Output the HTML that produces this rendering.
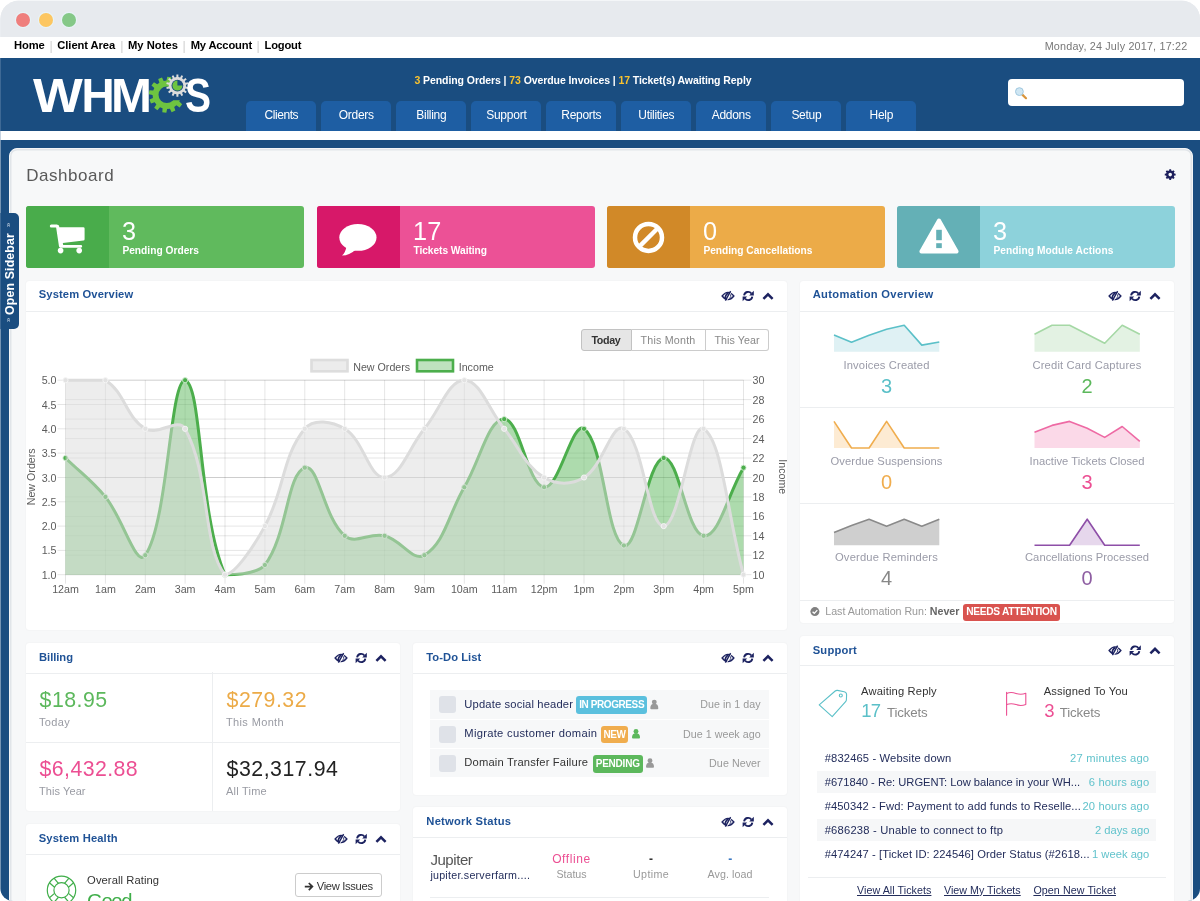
<!DOCTYPE html>
<html lang="en">
<head>
<meta charset="utf-8">
<title>WHMCS - Dashboard</title>
<style>
*{box-sizing:border-box}
html,body{margin:0;padding:0}
body{width:1200px;height:901px;overflow:hidden;background:#fff;font-family:"Liberation Sans",sans-serif;font-size:11px;color:#333}
#win{position:absolute;left:0;top:0;width:1200px;height:901px;overflow:hidden;background:linear-gradient(#e7eaee 0,#e7eaee 37px,#fff 37px,#fff 58px,#1a4d80 58px);clip-path:inset(0.8px 0 0 0.4px round 18px 18px 12.5px 12.5px)}
#win>div,#win>svg{position:absolute}
.x{position:absolute;white-space:nowrap;line-height:1}
.x b{font-weight:inherit}
#titlebar{left:0;top:0;width:1200px;height:37px;background:#e7eaee}
.dot{position:absolute;top:12.8px;width:14px;height:14px;border-radius:50%;box-shadow:0 0 0 1.2px rgba(232,244,247,.9)}
#topnav{left:0;top:37px;width:1200px;height:21px;background:#fff}
#header{left:0;top:58px;width:1200px;height:73px;background:#1a4d80}
#stripe{left:0;top:130.5px;width:1200px;height:9.5px;background:#fff}
.tab{position:absolute;top:42.5px;width:70px;height:30.5px;background:#1e5ea3;border-radius:5px 5px 0 0}
#search{position:absolute;left:1007.5px;top:20.5px;width:176px;height:27.5px;background:#fff;border-radius:4px}
#panel{left:9px;top:148.3px;width:1184px;height:800px;background:#f7f8f9;border:1px solid #f3f5f7;border-radius:8px;box-shadow:inset 0 0 0 1.5px #e1e5e9}
#sidetab{left:0;top:213px;width:19px;height:116px;background:#1a4d80;border-radius:0 5px 5px 0}
.stat{top:206px;width:278px;height:62px;border-radius:3px;overflow:hidden}
.stat i{position:absolute;left:0;top:0;width:83px;height:62px}
.w{background:#fff;border-radius:3px;box-shadow:0 0 1.5px rgba(0,0,0,.08)}
.w .hd{position:absolute;left:0;top:0;right:0;height:30.5px;border-bottom:1px solid #eceef0}
.ln{background:#eceef0}
</style>
</head>
<body>
<div id="win">
<div id="titlebar">
  <div class="dot" style="left:16px;background:#ef7f7d"></div>
  <div class="dot" style="left:39px;background:#fcc661"></div>
  <div class="dot" style="left:62px;background:#85c887"></div>
</div>
<div id="topnav"></div>
<div id="header">
  <div class="tab" style="left:246.3px"></div>
  <div class="tab" style="left:321.3px"></div>
  <div class="tab" style="left:396.3px"></div>
  <div class="tab" style="left:471.3px"></div>
  <div class="tab" style="left:546.3px"></div>
  <div class="tab" style="left:621.3px"></div>
  <div class="tab" style="left:696.3px"></div>
  <div class="tab" style="left:771.3px"></div>
  <div class="tab" style="left:846.3px"></div>
  <div id="search"></div>
</div>
<div id="stripe"></div>
<div id="panel"></div>
<div id="sidetab"></div>

<div class="stat" style="left:26px;background:#60ba5d"><i style="background:#49ac4b"></i></div>
<div class="stat" style="left:317px;background:#ec5196"><i style="background:#d71869"></i></div>
<div class="stat" style="left:607px;background:#ecab48"><i style="background:#d18928"></i></div>
<div class="stat" style="left:897px;background:#8dd2db"><i style="background:#64b0b6"></i></div>

<div class="w" style="left:26px;top:281px;width:761px;height:349px"><div class="hd"></div></div>
<div class="w" style="left:800px;top:281px;width:374px;height:342.4px"><div class="hd"></div></div>
<div class="w" style="left:26px;top:643px;width:374px;height:168px"><div class="hd"></div></div>
<div class="w" style="left:413px;top:643px;width:374px;height:151.5px"><div class="hd"></div></div>
<div class="w" style="left:800px;top:635.5px;width:374px;height:300px"><div class="hd"></div></div>
<div class="w" style="left:26px;top:824px;width:374px;height:120px"><div class="hd"></div></div>
<div class="w" style="left:413px;top:807px;width:374px;height:120px"><div class="hd"></div></div>

<div class="bt" style="left:581px;top:329.2px;width:51px;height:22px;background:#e6e6e6;border:1px solid #c2c2c2;border-radius:3px 0 0 3px"></div>
<div class="bt" style="left:631.5px;top:329.2px;width:74.5px;height:22px;background:#fff;border:1px solid #ccc;border-left:0"></div>
<div class="bt" style="left:706px;top:329.2px;width:63px;height:22px;background:#fff;border:1px solid #ccc;border-left:0;border-radius:0 3px 3px 0"></div>
<div class="ln" style="left:800px;top:406.5px;width:374px;height:1px"></div>
<div class="ln" style="left:800px;top:502.5px;width:374px;height:1px"></div>
<div class="ln" style="left:800px;top:599.5px;width:374px;height:1px"></div>
<div style="left:963px;top:603.5px;width:97px;height:17.3px;background:#d9534f;border-radius:3px"></div>
<div class="ln" style="left:26px;top:741.7px;width:374px;height:1px"></div>
<div class="ln" style="left:212.3px;top:672px;width:1px;height:139px"></div>
<div style="left:294.5px;top:872.6px;width:87.7px;height:24.7px;background:#fff;border:1px solid #ccc;border-radius:3px"></div>
<div class="row" style="left:430.4px;top:690.4px;width:338.8px;height:28.2px;background:#f7f8f9"></div>
<div class="row" style="left:430.4px;top:719.7px;width:338.8px;height:28.1px;background:#f7f8f9"></div>
<div class="row" style="left:430.4px;top:748.9px;width:338.8px;height:27.8px;background:#f7f8f9"></div>
<div class="cb" style="left:439px;top:696.4px;width:17px;height:16.8px;background:#dfe2e8;border-radius:3px"></div>
<div class="cb" style="left:439px;top:725.8px;width:17px;height:16.8px;background:#dfe2e8;border-radius:3px"></div>
<div class="cb" style="left:439px;top:755px;width:17px;height:16.8px;background:#dfe2e8;border-radius:3px"></div>
<div class="bdg" style="left:576px;top:696.2px;width:71.3px;height:17.5px;background:#5bc0de;border-radius:3px"></div>
<div class="bdg" style="left:600.5px;top:725.5px;width:27.8px;height:17.5px;background:#f0ad4e;border-radius:3px"></div>
<div class="bdg" style="left:592.5px;top:755px;width:50.1px;height:17.5px;background:#5cb85c;border-radius:3px"></div>
<div class="row" style="left:817.4px;top:770.7px;width:338.8px;height:22.5px;background:#f6f7f8"></div>
<div class="row" style="left:817.4px;top:819px;width:338.8px;height:22.4px;background:#f6f7f8"></div>
<div class="ln" style="left:808px;top:877px;width:357.7px;height:1px"></div>
<div class="ln" style="left:430.4px;top:896.8px;width:338.8px;height:1px"></div>


<svg style="left:0;top:0" width="1200" height="901" font-family="Liberation Sans, sans-serif" font-size="10.7" fill="#5c5c5c">
<style>.g{stroke:rgba(0,0,0,.1);stroke-width:1}</style>
<line x1="57.5" x2="743.5" y1="574.7" y2="574.7" class="g"/>
<line x1="57.5" x2="743.5" y1="550.4" y2="550.4" class="g"/>
<line x1="57.5" x2="743.5" y1="526.1" y2="526.1" class="g"/>
<line x1="57.5" x2="743.5" y1="501.8" y2="501.8" class="g"/>
<line x1="57.5" x2="743.5" y1="477.5" y2="477.5" class="g"/>
<line x1="57.5" x2="743.5" y1="453.1" y2="453.1" class="g"/>
<line x1="57.5" x2="743.5" y1="428.8" y2="428.8" class="g"/>
<line x1="57.5" x2="743.5" y1="404.5" y2="404.5" class="g"/>
<line x1="57.5" x2="743.5" y1="380.2" y2="380.2" class="g"/>
<line x1="65.5" x2="751.5" y1="574.7" y2="574.7" class="g"/>
<line x1="65.5" x2="751.5" y1="555.2" y2="555.2" class="g"/>
<line x1="65.5" x2="751.5" y1="535.8" y2="535.8" class="g"/>
<line x1="65.5" x2="751.5" y1="516.4" y2="516.4" class="g"/>
<line x1="65.5" x2="751.5" y1="496.9" y2="496.9" class="g"/>
<line x1="65.5" x2="751.5" y1="477.5" y2="477.5" class="g"/>
<line x1="65.5" x2="751.5" y1="458.0" y2="458.0" class="g"/>
<line x1="65.5" x2="751.5" y1="438.6" y2="438.6" class="g"/>
<line x1="65.5" x2="751.5" y1="419.1" y2="419.1" class="g"/>
<line x1="65.5" x2="751.5" y1="399.6" y2="399.6" class="g"/>
<line x1="65.5" x2="751.5" y1="380.2" y2="380.2" class="g"/>
<line x1="65.5" x2="65.5" y1="380.2" y2="583.7" class="g"/>
<line x1="105.4" x2="105.4" y1="380.2" y2="583.7" class="g"/>
<line x1="145.3" x2="145.3" y1="380.2" y2="583.7" class="g"/>
<line x1="185.1" x2="185.1" y1="380.2" y2="583.7" class="g"/>
<line x1="225.0" x2="225.0" y1="380.2" y2="583.7" class="g"/>
<line x1="264.9" x2="264.9" y1="380.2" y2="583.7" class="g"/>
<line x1="304.8" x2="304.8" y1="380.2" y2="583.7" class="g"/>
<line x1="344.7" x2="344.7" y1="380.2" y2="583.7" class="g"/>
<line x1="384.6" x2="384.6" y1="380.2" y2="583.7" class="g"/>
<line x1="424.4" x2="424.4" y1="380.2" y2="583.7" class="g"/>
<line x1="464.3" x2="464.3" y1="380.2" y2="583.7" class="g"/>
<line x1="504.2" x2="504.2" y1="380.2" y2="583.7" class="g"/>
<line x1="544.1" x2="544.1" y1="380.2" y2="583.7" class="g"/>
<line x1="584.0" x2="584.0" y1="380.2" y2="583.7" class="g"/>
<line x1="623.9" x2="623.9" y1="380.2" y2="583.7" class="g"/>
<line x1="663.7" x2="663.7" y1="380.2" y2="583.7" class="g"/>
<line x1="703.6" x2="703.6" y1="380.2" y2="583.7" class="g"/>
<line x1="743.5" x2="743.5" y1="380.2" y2="583.7" class="g"/>
<path d="M65.5 458.0C81.5 473.6 91.3 479.8 105.4 496.9C123.2 518.7 136.3 568.4 145.3 555.2C168.2 521.8 170.0 380.2 185.1 380.2C201.9 384.3 198.6 513.5 225.0 574.7C230.5 574.7 256.0 574.7 264.9 565.0C287.9 534.2 286.6 474.4 304.8 467.7C318.5 462.7 323.5 517.7 344.7 535.8C355.4 544.9 369.5 532.1 384.6 535.8C401.4 539.9 413.0 562.3 424.4 555.2C444.9 542.8 448.4 514.4 464.3 487.2C480.3 459.9 488.3 419.1 504.2 419.1C520.2 419.1 527.3 485.1 544.1 487.2C559.2 489.0 572.3 420.3 584.0 428.8C604.3 443.7 605.9 539.0 623.9 545.5C637.8 550.6 647.0 460.0 663.7 458.0C678.9 456.1 686.8 533.8 703.6 535.8C718.8 537.6 727.5 495.0 743.5 467.7L743.5 574.7L65.5 574.7Z" fill="rgba(92,184,92,0.5)"/>
<path d="M65.5 458.0C81.5 473.6 91.3 479.8 105.4 496.9C123.2 518.7 136.3 568.4 145.3 555.2C168.2 521.8 170.0 380.2 185.1 380.2C201.9 384.3 198.6 513.5 225.0 574.7C230.5 574.7 256.0 574.7 264.9 565.0C287.9 534.2 286.6 474.4 304.8 467.7C318.5 462.7 323.5 517.7 344.7 535.8C355.4 544.9 369.5 532.1 384.6 535.8C401.4 539.9 413.0 562.3 424.4 555.2C444.9 542.8 448.4 514.4 464.3 487.2C480.3 459.9 488.3 419.1 504.2 419.1C520.2 419.1 527.3 485.1 544.1 487.2C559.2 489.0 572.3 420.3 584.0 428.8C604.3 443.7 605.9 539.0 623.9 545.5C637.8 550.6 647.0 460.0 663.7 458.0C678.9 456.1 686.8 533.8 703.6 535.8C718.8 537.6 727.5 495.0 743.5 467.7" fill="none" stroke="#4cae4c" stroke-width="3"/>
<circle cx="65.5" cy="458.0" r="2.6" fill="#4cae4c" stroke="#d6ecd6" stroke-width=".9"/>
<circle cx="105.4" cy="496.9" r="2.6" fill="#4cae4c" stroke="#d6ecd6" stroke-width=".9"/>
<circle cx="145.3" cy="555.2" r="2.6" fill="#4cae4c" stroke="#d6ecd6" stroke-width=".9"/>
<circle cx="185.1" cy="380.2" r="2.6" fill="#4cae4c" stroke="#d6ecd6" stroke-width=".9"/>
<circle cx="225.0" cy="574.7" r="2.6" fill="#4cae4c" stroke="#d6ecd6" stroke-width=".9"/>
<circle cx="264.9" cy="565.0" r="2.6" fill="#4cae4c" stroke="#d6ecd6" stroke-width=".9"/>
<circle cx="304.8" cy="467.7" r="2.6" fill="#4cae4c" stroke="#d6ecd6" stroke-width=".9"/>
<circle cx="344.7" cy="535.8" r="2.6" fill="#4cae4c" stroke="#d6ecd6" stroke-width=".9"/>
<circle cx="384.6" cy="535.8" r="2.6" fill="#4cae4c" stroke="#d6ecd6" stroke-width=".9"/>
<circle cx="424.4" cy="555.2" r="2.6" fill="#4cae4c" stroke="#d6ecd6" stroke-width=".9"/>
<circle cx="464.3" cy="487.2" r="2.6" fill="#4cae4c" stroke="#d6ecd6" stroke-width=".9"/>
<circle cx="504.2" cy="419.1" r="2.6" fill="#4cae4c" stroke="#d6ecd6" stroke-width=".9"/>
<circle cx="544.1" cy="487.2" r="2.6" fill="#4cae4c" stroke="#d6ecd6" stroke-width=".9"/>
<circle cx="584.0" cy="428.8" r="2.6" fill="#4cae4c" stroke="#d6ecd6" stroke-width=".9"/>
<circle cx="623.9" cy="545.5" r="2.6" fill="#4cae4c" stroke="#d6ecd6" stroke-width=".9"/>
<circle cx="663.7" cy="458.0" r="2.6" fill="#4cae4c" stroke="#d6ecd6" stroke-width=".9"/>
<circle cx="703.6" cy="535.8" r="2.6" fill="#4cae4c" stroke="#d6ecd6" stroke-width=".9"/>
<circle cx="743.5" cy="467.7" r="2.6" fill="#4cae4c" stroke="#d6ecd6" stroke-width=".9"/>
<path d="M65.5 380.2C81.5 380.2 93.0 380.2 105.4 380.2C124.9 392.1 125.7 416.9 145.3 428.8C157.6 436.4 178.5 416.6 185.1 428.8C210.4 475.0 202.5 547.2 225.0 574.7C234.4 574.7 253.0 547.9 264.9 526.1C284.9 489.6 281.7 457.0 304.8 428.8C313.6 418.1 332.3 421.3 344.7 428.8C364.2 440.7 368.6 477.5 384.6 477.5C400.5 477.5 408.5 448.3 424.4 428.8C440.4 409.4 448.4 380.2 464.3 380.2C480.3 380.2 488.3 409.4 504.2 428.8C520.2 448.3 524.6 465.5 544.1 477.5C556.5 485.0 571.6 485.0 584.0 477.5C603.5 465.5 611.9 421.5 623.9 428.8C643.8 441.0 647.8 526.1 663.7 526.1C679.7 526.1 690.5 420.8 703.6 428.8C722.4 440.3 727.5 516.4 743.5 574.7L743.5 574.7L65.5 574.7Z" fill="rgba(220,220,220,0.5)"/>
<path d="M65.5 380.2C81.5 380.2 93.0 380.2 105.4 380.2C124.9 392.1 125.7 416.9 145.3 428.8C157.6 436.4 178.5 416.6 185.1 428.8C210.4 475.0 202.5 547.2 225.0 574.7C234.4 574.7 253.0 547.9 264.9 526.1C284.9 489.6 281.7 457.0 304.8 428.8C313.6 418.1 332.3 421.3 344.7 428.8C364.2 440.7 368.6 477.5 384.6 477.5C400.5 477.5 408.5 448.3 424.4 428.8C440.4 409.4 448.4 380.2 464.3 380.2C480.3 380.2 488.3 409.4 504.2 428.8C520.2 448.3 524.6 465.5 544.1 477.5C556.5 485.0 571.6 485.0 584.0 477.5C603.5 465.5 611.9 421.5 623.9 428.8C643.8 441.0 647.8 526.1 663.7 526.1C679.7 526.1 690.5 420.8 703.6 428.8C722.4 440.3 727.5 516.4 743.5 574.7" fill="none" stroke="#dcdcdc" stroke-width="3"/>
<circle cx="65.5" cy="380.2" r="2.6" fill="#e2e2e2" stroke="#f6f6f6" stroke-width=".9"/>
<circle cx="105.4" cy="380.2" r="2.6" fill="#e2e2e2" stroke="#f6f6f6" stroke-width=".9"/>
<circle cx="145.3" cy="428.8" r="2.6" fill="#e2e2e2" stroke="#f6f6f6" stroke-width=".9"/>
<circle cx="185.1" cy="428.8" r="2.6" fill="#e2e2e2" stroke="#f6f6f6" stroke-width=".9"/>
<circle cx="225.0" cy="574.7" r="2.6" fill="#e2e2e2" stroke="#f6f6f6" stroke-width=".9"/>
<circle cx="264.9" cy="526.1" r="2.6" fill="#e2e2e2" stroke="#f6f6f6" stroke-width=".9"/>
<circle cx="304.8" cy="428.8" r="2.6" fill="#e2e2e2" stroke="#f6f6f6" stroke-width=".9"/>
<circle cx="344.7" cy="428.8" r="2.6" fill="#e2e2e2" stroke="#f6f6f6" stroke-width=".9"/>
<circle cx="384.6" cy="477.5" r="2.6" fill="#e2e2e2" stroke="#f6f6f6" stroke-width=".9"/>
<circle cx="424.4" cy="428.8" r="2.6" fill="#e2e2e2" stroke="#f6f6f6" stroke-width=".9"/>
<circle cx="464.3" cy="380.2" r="2.6" fill="#e2e2e2" stroke="#f6f6f6" stroke-width=".9"/>
<circle cx="504.2" cy="428.8" r="2.6" fill="#e2e2e2" stroke="#f6f6f6" stroke-width=".9"/>
<circle cx="544.1" cy="477.5" r="2.6" fill="#e2e2e2" stroke="#f6f6f6" stroke-width=".9"/>
<circle cx="584.0" cy="477.5" r="2.6" fill="#e2e2e2" stroke="#f6f6f6" stroke-width=".9"/>
<circle cx="623.9" cy="428.8" r="2.6" fill="#e2e2e2" stroke="#f6f6f6" stroke-width=".9"/>
<circle cx="663.7" cy="526.1" r="2.6" fill="#e2e2e2" stroke="#f6f6f6" stroke-width=".9"/>
<circle cx="703.6" cy="428.8" r="2.6" fill="#e2e2e2" stroke="#f6f6f6" stroke-width=".9"/>
<circle cx="743.5" cy="574.7" r="2.6" fill="#e2e2e2" stroke="#f6f6f6" stroke-width=".9"/>
<text x="65.5" y="592.9" text-anchor="middle">12am</text>
<text x="105.4" y="592.9" text-anchor="middle">1am</text>
<text x="145.3" y="592.9" text-anchor="middle">2am</text>
<text x="185.1" y="592.9" text-anchor="middle">3am</text>
<text x="225.0" y="592.9" text-anchor="middle">4am</text>
<text x="264.9" y="592.9" text-anchor="middle">5am</text>
<text x="304.8" y="592.9" text-anchor="middle">6am</text>
<text x="344.7" y="592.9" text-anchor="middle">7am</text>
<text x="384.6" y="592.9" text-anchor="middle">8am</text>
<text x="424.4" y="592.9" text-anchor="middle">9am</text>
<text x="464.3" y="592.9" text-anchor="middle">10am</text>
<text x="504.2" y="592.9" text-anchor="middle">11am</text>
<text x="544.1" y="592.9" text-anchor="middle">12pm</text>
<text x="584.0" y="592.9" text-anchor="middle">1pm</text>
<text x="623.9" y="592.9" text-anchor="middle">2pm</text>
<text x="663.7" y="592.9" text-anchor="middle">3pm</text>
<text x="703.6" y="592.9" text-anchor="middle">4pm</text>
<text x="743.5" y="592.9" text-anchor="middle">5pm</text>
<text x="56.5" y="578.7" text-anchor="end">1.0</text>
<text x="56.5" y="554.4" text-anchor="end">1.5</text>
<text x="56.5" y="530.1" text-anchor="end">2.0</text>
<text x="56.5" y="505.8" text-anchor="end">2.5</text>
<text x="56.5" y="481.5" text-anchor="end">3.0</text>
<text x="56.5" y="457.1" text-anchor="end">3.5</text>
<text x="56.5" y="432.8" text-anchor="end">4.0</text>
<text x="56.5" y="408.5" text-anchor="end">4.5</text>
<text x="56.5" y="384.2" text-anchor="end">5.0</text>
<text x="752.5" y="578.7">10</text>
<text x="752.5" y="559.2">12</text>
<text x="752.5" y="539.8">14</text>
<text x="752.5" y="520.4">16</text>
<text x="752.5" y="500.9">18</text>
<text x="752.5" y="481.5">20</text>
<text x="752.5" y="462.0">22</text>
<text x="752.5" y="442.6">24</text>
<text x="752.5" y="423.1">26</text>
<text x="752.5" y="403.6">28</text>
<text x="752.5" y="384.2">30</text>
<rect x="311.5" y="360" width="36" height="11.3" fill="#ececec" stroke="#dddddd" stroke-width="2.6"/>
<text x="353.2" y="370.5">New Orders</text>
<rect x="417" y="360" width="36" height="11.3" fill="#bfe2bf" stroke="#4cae4c" stroke-width="2.6"/>
<text x="458.7" y="370.5">Income</text>
<text transform="translate(34.5 476.8) rotate(-90)" text-anchor="middle">New Orders</text>
<text transform="translate(779 476.8) rotate(90)" text-anchor="middle">Income</text>
<path d="M181.00 94.48L184.79 95.27L184.23 99.31L180.36 99.02L179.26 101.62L182.15 104.20L179.64 107.42L176.43 105.24L174.18 106.93L175.39 110.62L171.61 112.15L169.92 108.65L167.12 109.00L166.33 112.79L162.29 112.23L162.58 108.36L159.98 107.26L157.40 110.15L154.18 107.64L156.36 104.43L154.67 102.18L150.98 103.39L149.45 99.61L152.95 97.92L152.60 95.12L148.81 94.33L149.37 90.29L153.24 90.58L154.34 87.98L151.45 85.40L153.96 82.18L157.17 84.36L159.42 82.67L158.21 78.98L161.99 77.45L163.68 80.95L166.48 80.60L167.27 76.81L171.31 77.37L171.02 81.24L173.62 82.34L176.20 79.45L179.42 81.96L177.24 85.17L178.93 87.42L182.62 86.21L184.15 89.99L180.65 91.68Z" fill="#6ec440"/>
<circle cx="166.8" cy="94.8" r="8.3" fill="#1a4d80"/>
<path d="M170.8 88.8L188.8 80.8L188.8 100.3L171.8 100.3Z" fill="#1a4d80"/>
<path d="M176.34 77.07L176.43 74.44L178.37 74.44L178.46 77.07L180.15 77.45L181.37 75.13L183.11 75.97L182.06 78.37L183.41 79.45L185.52 77.89L186.73 79.40L184.73 81.11L185.49 82.67L188.06 82.17L188.49 84.06L185.96 84.73L185.96 86.47L188.49 87.14L188.06 89.03L185.49 88.53L184.73 90.09L186.73 91.80L185.52 93.31L183.41 91.75L182.06 92.83L183.11 95.23L181.37 96.07L180.15 93.75L178.46 94.13L178.37 96.76L176.43 96.76L176.34 94.13L174.65 93.75L173.43 96.07L171.69 95.23L172.74 92.83L171.39 91.75L169.28 93.31L168.07 91.80L170.07 90.09L169.31 88.53L166.74 89.03L166.31 87.14L168.84 86.47L168.84 84.73L166.31 84.06L166.74 82.17L169.31 82.67L170.07 81.11L168.07 79.40L169.28 77.89L171.39 79.45L172.74 78.37L171.69 75.97L173.43 75.13L174.65 77.45Z" fill="#dcdcdc"/>
<circle cx="177.4" cy="85.6" r="5.9" fill="#1a4d80"/>
<path d="M177.40 85.60L182.40 85.60A5 5 0 1 1 177.40 80.60Z" fill="#6ec440"/>
<path d="M1022.3 94.6L1026 98.2" stroke="#d9953c" stroke-width="2.2" stroke-linecap="round"/>
<circle cx="1019.4" cy="91.6" r="3.9" fill="#cfe6f3" stroke="#9fc7de" stroke-width="1"/>
<path d="M1174.33 173.61L1175.63 173.70L1175.63 175.50L1174.33 175.59L1173.82 176.82L1174.67 177.80L1173.40 179.07L1172.42 178.22L1171.19 178.73L1171.10 180.03L1169.30 180.03L1169.21 178.73L1167.98 178.22L1167.00 179.07L1165.73 177.80L1166.58 176.82L1166.07 175.59L1164.77 175.50L1164.77 173.70L1166.07 173.61L1166.58 172.38L1165.73 171.40L1167.00 170.13L1167.98 170.98L1169.21 170.47L1169.30 169.17L1171.10 169.17L1171.19 170.47L1172.42 170.98L1173.40 170.13L1174.67 171.40L1173.82 172.38ZM1168.40 174.60a1.80 1.80 0 1 0 3.60 0a1.80 1.80 0 1 0 -3.60 0Z" fill="#1d1f5c" fill-rule="evenodd"/>
<g fill="#fff" transform="translate(49.8 224.0)">
<rect x="0" y="0.6" width="8.6" height="3" rx="1.5"/>
<path d="M6 1.2L9 1.2L9.6 3.2L33.5 3.2Q34.8 3.2 34.8 4.5L34.8 15.2Q34.8 16.4 33.6 16.6L13 18.9L13.4 21L31 21Q32.4 21 32.4 22.3Q32.4 23.7 31 23.7L10.6 23.7Q9.4 23.7 9.2 22.6Z"/>
<circle cx="10.8" cy="26.6" r="2.8"/><circle cx="29.4" cy="26.6" r="2.8"/>
</g>
<g fill="#fff"><ellipse cx="357.9" cy="237.4" rx="18.6" ry="13.4"/><path d="M346.5 246.5Q345.5 252.5 342 255.6Q349.5 255.6 355.5 249.8Z"/></g>
<circle cx="648.5" cy="237.4" r="13.5" fill="none" stroke="#fff" stroke-width="4.5"/><path d="M639.3 246.6L657.7 228.2" stroke="#fff" stroke-width="4.4"/>
<path d="M939 220.6L956.6 251.4L921.4 251.4Z" fill="#fff" stroke="#fff" stroke-width="4" stroke-linejoin="round"/>
<rect x="936.2" y="229.8" width="5.6" height="10.4" fill="#64b0b6"/><rect x="936.2" y="243.2" width="5.6" height="4.9" fill="#64b0b6"/>
<path d="M763.4 298.9L768.0 294.3L772.6 298.9" fill="none" stroke="#1c2260" stroke-width="2.5" stroke-linejoin="miter"/>
<g fill="none" stroke="#1c2260" stroke-width="1.9">
<path d="M744.10 295.40A4.1 4.1 0 0 1 751.40 293.46"/>
<path d="M752.30 296.60A4.1 4.1 0 0 1 745.00 298.54"/>
</g>
<path d="M753.80 295.40l0 -4.6l-4.6 4.6z" fill="#1c2260"/>
<path d="M742.60 296.60l0 4.6l4.6 -4.6z" fill="#1c2260"/>
<path d="M722.10 296.00Q728.00 288.80 733.90 296.00Q728.00 303.20 722.10 296.00Z" fill="none" stroke="#1c2260" stroke-width="1.3"/>
<path d="M728.30 293.00Q725.00 294.80 725.30 298.70" fill="none" stroke="#1c2260" stroke-width="1.7"/>
<path d="M731.60 291.60L726.70 300.60" stroke="#fff" stroke-width="0.9"/>
<path d="M730.60 291.10L725.40 300.70" stroke="#1c2260" stroke-width="1.4"/>
<path d="M730.60 294.40Q731.40 296.60 729.60 298.40" fill="none" stroke="#1c2260" stroke-width="0.9"/>
<path d="M1150.4 298.9L1155.0 294.3L1159.6 298.9" fill="none" stroke="#1c2260" stroke-width="2.5" stroke-linejoin="miter"/>
<g fill="none" stroke="#1c2260" stroke-width="1.9">
<path d="M1131.10 295.40A4.1 4.1 0 0 1 1138.40 293.46"/>
<path d="M1139.30 296.60A4.1 4.1 0 0 1 1132.00 298.54"/>
</g>
<path d="M1140.80 295.40l0 -4.6l-4.6 4.6z" fill="#1c2260"/>
<path d="M1129.60 296.60l0 4.6l4.6 -4.6z" fill="#1c2260"/>
<path d="M1109.10 296.00Q1115.00 288.80 1120.90 296.00Q1115.00 303.20 1109.10 296.00Z" fill="none" stroke="#1c2260" stroke-width="1.3"/>
<path d="M1115.30 293.00Q1112.00 294.80 1112.30 298.70" fill="none" stroke="#1c2260" stroke-width="1.7"/>
<path d="M1118.60 291.60L1113.70 300.60" stroke="#fff" stroke-width="0.9"/>
<path d="M1117.60 291.10L1112.40 300.70" stroke="#1c2260" stroke-width="1.4"/>
<path d="M1117.60 294.40Q1118.40 296.60 1116.60 298.40" fill="none" stroke="#1c2260" stroke-width="0.9"/>
<path d="M376.4 660.9L381.0 656.3L385.6 660.9" fill="none" stroke="#1c2260" stroke-width="2.5" stroke-linejoin="miter"/>
<g fill="none" stroke="#1c2260" stroke-width="1.9">
<path d="M357.10 657.40A4.1 4.1 0 0 1 364.40 655.46"/>
<path d="M365.30 658.60A4.1 4.1 0 0 1 358.00 660.54"/>
</g>
<path d="M366.80 657.40l0 -4.6l-4.6 4.6z" fill="#1c2260"/>
<path d="M355.60 658.60l0 4.6l4.6 -4.6z" fill="#1c2260"/>
<path d="M335.10 658.00Q341.00 650.80 346.90 658.00Q341.00 665.20 335.10 658.00Z" fill="none" stroke="#1c2260" stroke-width="1.3"/>
<path d="M341.30 655.00Q338.00 656.80 338.30 660.70" fill="none" stroke="#1c2260" stroke-width="1.7"/>
<path d="M344.60 653.60L339.70 662.60" stroke="#fff" stroke-width="0.9"/>
<path d="M343.60 653.10L338.40 662.70" stroke="#1c2260" stroke-width="1.4"/>
<path d="M343.60 656.40Q344.40 658.60 342.60 660.40" fill="none" stroke="#1c2260" stroke-width="0.9"/>
<path d="M763.4 660.9L768.0 656.3L772.6 660.9" fill="none" stroke="#1c2260" stroke-width="2.5" stroke-linejoin="miter"/>
<g fill="none" stroke="#1c2260" stroke-width="1.9">
<path d="M744.10 657.40A4.1 4.1 0 0 1 751.40 655.46"/>
<path d="M752.30 658.60A4.1 4.1 0 0 1 745.00 660.54"/>
</g>
<path d="M753.80 657.40l0 -4.6l-4.6 4.6z" fill="#1c2260"/>
<path d="M742.60 658.60l0 4.6l4.6 -4.6z" fill="#1c2260"/>
<path d="M722.10 658.00Q728.00 650.80 733.90 658.00Q728.00 665.20 722.10 658.00Z" fill="none" stroke="#1c2260" stroke-width="1.3"/>
<path d="M728.30 655.00Q725.00 656.80 725.30 660.70" fill="none" stroke="#1c2260" stroke-width="1.7"/>
<path d="M731.60 653.60L726.70 662.60" stroke="#fff" stroke-width="0.9"/>
<path d="M730.60 653.10L725.40 662.70" stroke="#1c2260" stroke-width="1.4"/>
<path d="M730.60 656.40Q731.40 658.60 729.60 660.40" fill="none" stroke="#1c2260" stroke-width="0.9"/>
<path d="M1150.4 653.4L1155.0 648.8L1159.6 653.4" fill="none" stroke="#1c2260" stroke-width="2.5" stroke-linejoin="miter"/>
<g fill="none" stroke="#1c2260" stroke-width="1.9">
<path d="M1131.10 649.90A4.1 4.1 0 0 1 1138.40 647.96"/>
<path d="M1139.30 651.10A4.1 4.1 0 0 1 1132.00 653.04"/>
</g>
<path d="M1140.80 649.90l0 -4.6l-4.6 4.6z" fill="#1c2260"/>
<path d="M1129.60 651.10l0 4.6l4.6 -4.6z" fill="#1c2260"/>
<path d="M1109.10 650.50Q1115.00 643.30 1120.90 650.50Q1115.00 657.70 1109.10 650.50Z" fill="none" stroke="#1c2260" stroke-width="1.3"/>
<path d="M1115.30 647.50Q1112.00 649.30 1112.30 653.20" fill="none" stroke="#1c2260" stroke-width="1.7"/>
<path d="M1118.60 646.10L1113.70 655.10" stroke="#fff" stroke-width="0.9"/>
<path d="M1117.60 645.60L1112.40 655.20" stroke="#1c2260" stroke-width="1.4"/>
<path d="M1117.60 648.90Q1118.40 651.10 1116.60 652.90" fill="none" stroke="#1c2260" stroke-width="0.9"/>
<path d="M376.4 841.9L381.0 837.3L385.6 841.9" fill="none" stroke="#1c2260" stroke-width="2.5" stroke-linejoin="miter"/>
<g fill="none" stroke="#1c2260" stroke-width="1.9">
<path d="M357.10 838.40A4.1 4.1 0 0 1 364.40 836.46"/>
<path d="M365.30 839.60A4.1 4.1 0 0 1 358.00 841.54"/>
</g>
<path d="M366.80 838.40l0 -4.6l-4.6 4.6z" fill="#1c2260"/>
<path d="M355.60 839.60l0 4.6l4.6 -4.6z" fill="#1c2260"/>
<path d="M335.10 839.00Q341.00 831.80 346.90 839.00Q341.00 846.20 335.10 839.00Z" fill="none" stroke="#1c2260" stroke-width="1.3"/>
<path d="M341.30 836.00Q338.00 837.80 338.30 841.70" fill="none" stroke="#1c2260" stroke-width="1.7"/>
<path d="M344.60 834.60L339.70 843.60" stroke="#fff" stroke-width="0.9"/>
<path d="M343.60 834.10L338.40 843.70" stroke="#1c2260" stroke-width="1.4"/>
<path d="M343.60 837.40Q344.40 839.60 342.60 841.40" fill="none" stroke="#1c2260" stroke-width="0.9"/>
<path d="M763.4 824.9L768.0 820.3L772.6 824.9" fill="none" stroke="#1c2260" stroke-width="2.5" stroke-linejoin="miter"/>
<g fill="none" stroke="#1c2260" stroke-width="1.9">
<path d="M744.10 821.40A4.1 4.1 0 0 1 751.40 819.46"/>
<path d="M752.30 822.60A4.1 4.1 0 0 1 745.00 824.54"/>
</g>
<path d="M753.80 821.40l0 -4.6l-4.6 4.6z" fill="#1c2260"/>
<path d="M742.60 822.60l0 4.6l4.6 -4.6z" fill="#1c2260"/>
<path d="M722.10 822.00Q728.00 814.80 733.90 822.00Q728.00 829.20 722.10 822.00Z" fill="none" stroke="#1c2260" stroke-width="1.3"/>
<path d="M728.30 819.00Q725.00 820.80 725.30 824.70" fill="none" stroke="#1c2260" stroke-width="1.7"/>
<path d="M731.60 817.60L726.70 826.60" stroke="#fff" stroke-width="0.9"/>
<path d="M730.60 817.10L725.40 826.70" stroke="#1c2260" stroke-width="1.4"/>
<path d="M730.60 820.40Q731.40 822.60 729.60 824.40" fill="none" stroke="#1c2260" stroke-width="0.9"/>
<path d="M834.0 335.0L851.5 342.2L869.1 335.3L886.6 329.2L904.2 325.2L921.8 345.1L939.3 342.0L939.3 351.8L834.0 351.8Z" fill="#dff1f4"/><path d="M834.0 335.0L851.5 342.2L869.1 335.3L886.6 329.2L904.2 325.2L921.8 345.1L939.3 342.0" fill="none" stroke="#5bc0c8" stroke-width="1.6" stroke-linejoin="round"/>
<path d="M1034.5 334.2L1052.0 325.2L1069.6 325.2L1087.2 334.2L1104.7 343.3L1122.2 325.2L1139.8 334.2L1139.8 351.8L1034.5 351.8Z" fill="#e3f2e3"/><path d="M1034.5 334.2L1052.0 325.2L1069.6 325.2L1087.2 334.2L1104.7 343.3L1122.2 325.2L1139.8 334.2" fill="none" stroke="#a5d8a5" stroke-width="1.6" stroke-linejoin="round"/>
<path d="M834.0 421.4L851.5 448.0L869.1 448.0L886.6 421.4L904.2 448.0L921.8 448.0L939.3 448.0L939.3 448.0L834.0 448.0Z" fill="#fdebd3"/><path d="M834.0 421.4L851.5 448.0L869.1 448.0L886.6 421.4L904.2 448.0L921.8 448.0L939.3 448.0" fill="none" stroke="#f0ad4e" stroke-width="1.6" stroke-linejoin="round"/>
<path d="M1034.5 432.3L1052.0 425.4L1069.6 421.4L1087.2 428.3L1104.7 437.4L1122.2 426.5L1139.8 441.4L1139.8 448.0L1034.5 448.0Z" fill="#fbd9e8"/><path d="M1034.5 432.3L1052.0 425.4L1069.6 421.4L1087.2 428.3L1104.7 437.4L1122.2 426.5L1139.8 441.4" fill="none" stroke="#ee6aa4" stroke-width="1.6" stroke-linejoin="round"/>
<path d="M834.0 532.5L851.5 525.5L869.1 519.2L886.6 526.2L904.2 519.2L921.8 526.2L939.3 519.2L939.3 545.3L834.0 545.3Z" fill="#cfcfcf"/><path d="M834.0 532.5L851.5 525.5L869.1 519.2L886.6 526.2L904.2 519.2L921.8 526.2L939.3 519.2" fill="none" stroke="#8a8a8a" stroke-width="1.6" stroke-linejoin="round"/>
<path d="M1034.5 545.3L1052.0 545.3L1069.6 545.3L1087.2 519.2L1104.7 545.3L1122.2 545.3L1139.8 545.3L1139.8 545.3L1034.5 545.3Z" fill="#e6d7ec"/><path d="M1034.5 545.3L1052.0 545.3L1069.6 545.3L1087.2 519.2L1104.7 545.3L1122.2 545.3L1139.8 545.3" fill="none" stroke="#8e4fa8" stroke-width="1.6" stroke-linejoin="round"/>
<circle cx="814.9" cy="611.6" r="4.5" fill="#808080"/><path d="M812.6 611.7L814.3 613.4L817.3 610.1" fill="none" stroke="#fff" stroke-width="1.3"/>
<g fill="none" stroke="#5bc0c8" stroke-width="1.1" stroke-linejoin="round"><path d="M819.2 704.9L835.2 691Q836.2 690.2 837.5 690.4L844.2 691.8Q846.6 692.3 846.6 694.8L846.4 699.8Q846.4 700.8 845.6 701.7L832.2 716.6Z"/><circle cx="840.8" cy="695.5" r="1.5"/></g>
<g fill="none" stroke="#ec4f93" stroke-width="1.1" stroke-linejoin="round" stroke-linecap="round"><path d="M1006.6 692.4L1006.6 715.2"/><path d="M1006.6 693.4Q1011 691.6 1016 693.4Q1021 695.2 1025.8 693.2L1025.8 704.4Q1021 706.4 1016 704.6Q1011 702.8 1006.6 704.6"/></g>
<g fill="none" stroke="#3fae49" stroke-width="1.2"><circle cx="61.5" cy="890.3" r="14.2"/><circle cx="61.5" cy="890.3" r="7.6"/>
<path d="M68.45 893.38L73.57 897.79"/>
<path d="M64.58 897.25L68.99 902.37"/>
<path d="M58.42 897.25L54.01 902.37"/>
<path d="M54.55 893.38L49.43 897.79"/>
<path d="M54.55 887.22L49.43 882.81"/>
<path d="M58.42 883.35L54.01 878.23"/>
<path d="M64.58 883.35L68.99 878.23"/>
<path d="M68.45 887.22L73.57 882.81"/>
</g>
<path d="M304.8 886.6L312 886.6M308.8 883L312.4 886.6L308.8 890.2" fill="none" stroke="#333" stroke-width="1.7"/>
<g fill="#999"><circle cx="654.3" cy="702.1" r="2.45"/><path d="M650.3 708.2q0 -4.4 4 -4.4q4 0 4 4.4q0 1 -1 1h-6q-1 0 -1 -1z"/></g>
<g fill="#5cb85c"><circle cx="636.0" cy="731.5" r="2.45"/><path d="M632.0 737.6q0 -4.4 4 -4.4q4 0 4 4.4q0 1 -1 1h-6q-1 0 -1 -1z"/></g>
<g fill="#999"><circle cx="650.0" cy="760.7" r="2.45"/><path d="M646.0 766.8q0 -4.4 4 -4.4q4 0 4 4.4q0 1 -1 1h-6q-1 0 -1 -1z"/></g>
</svg>
<span class="x" style="left:13.9px;top:40.4px;font-size:11.2px;color:#000;font-weight:bold;letter-spacing:-0.05px;">Home</span>
<span class="x" style="left:49.6px;top:40.0px;font-size:12.5px;color:#d0d0d0;">|</span>
<span class="x" style="left:57.3px;top:40.4px;font-size:11.2px;color:#000;font-weight:bold;letter-spacing:-0.07px;">Client Area</span>
<span class="x" style="left:120.3px;top:40.0px;font-size:12.5px;color:#d0d0d0;">|</span>
<span class="x" style="left:128.0px;top:40.4px;font-size:11.2px;color:#000;font-weight:bold;letter-spacing:0.03px;">My Notes</span>
<span class="x" style="left:182.4px;top:40.0px;font-size:12.5px;color:#d0d0d0;">|</span>
<span class="x" style="left:190.7px;top:40.4px;font-size:11.2px;color:#000;font-weight:bold;letter-spacing:-0.17px;">My Account</span>
<span class="x" style="left:256.4px;top:40.0px;font-size:12.5px;color:#d0d0d0;">|</span>
<span class="x" style="left:264.5px;top:40.4px;font-size:11.2px;color:#000;font-weight:bold;letter-spacing:-0.18px;">Logout</span>
<span class="x" style="left:1044.7px;top:40.9px;font-size:10.8px;color:#777;letter-spacing:0.18px;">Monday, 24 July 2017, 17:22</span>
<span class="x" style="left:414.5px;top:75.1px;font-size:10.5px;color:#fff;font-weight:bold;letter-spacing:-0.08px;"><b style="color:#f9c22e">3</b> Pending Orders | <b style="color:#f9c22e">73</b> Overdue Invoices | <b style="color:#f9c22e">17</b> Ticket(s) Awaiting Reply</span>
<span class="x" style="left:264.6px;top:109.2px;font-size:12px;color:#fff;letter-spacing:-0.46px;">Clients</span>
<span class="x" style="left:338.8px;top:109.2px;font-size:12px;color:#fff;letter-spacing:-0.28px;">Orders</span>
<span class="x" style="left:416.3px;top:109.2px;font-size:12px;color:#fff;letter-spacing:-0.29px;">Billing</span>
<span class="x" style="left:486.2px;top:109.2px;font-size:12px;color:#fff;letter-spacing:-0.25px;">Support</span>
<span class="x" style="left:561.3px;top:109.2px;font-size:12px;color:#fff;letter-spacing:-.3px">Reports</span>
<span class="x" style="left:638.3px;top:109.2px;font-size:12px;color:#fff;letter-spacing:-.3px">Utilities</span>
<span class="x" style="left:711.8px;top:109.2px;font-size:12px;color:#fff;letter-spacing:-.3px">Addons</span>
<span class="x" style="left:791.4px;top:109.2px;font-size:12px;color:#fff;letter-spacing:-.3px">Setup</span>
<span class="x" style="left:869.6px;top:109.2px;font-size:12px;color:#fff;letter-spacing:-.3px">Help</span>
<span class="x" style="left:26.3px;top:166.9px;font-size:17px;color:#595959;letter-spacing:0.53px;">Dashboard</span>
<span class="x" style="left:122.1px;top:219.1px;font-size:25.3px;color:#fff;">3</span>
<span class="x" style="left:122.4px;top:245.5px;font-size:10.2px;color:#fff;font-weight:bold;letter-spacing:0.01px;">Pending Orders</span>
<span class="x" style="left:413.1px;top:219.1px;font-size:25.3px;color:#fff;">17</span>
<span class="x" style="left:413.4px;top:245.5px;font-size:10.2px;color:#fff;font-weight:bold;letter-spacing:-0.04px;">Tickets Waiting</span>
<span class="x" style="left:703.1px;top:219.1px;font-size:25.3px;color:#fff;">0</span>
<span class="x" style="left:703.4px;top:245.5px;font-size:10.2px;color:#fff;font-weight:bold;letter-spacing:-0.01px;">Pending Cancellations</span>
<span class="x" style="left:993.1px;top:219.1px;font-size:25.3px;color:#fff;">3</span>
<span class="x" style="left:993.4px;top:245.5px;font-size:10.2px;color:#fff;font-weight:bold;letter-spacing:0.07px;">Pending Module Actions</span>
<span class="x" style="left:38.7px;top:288.8px;font-size:11.2px;color:#1f5296;font-weight:bold;letter-spacing:0.13px;">System Overview</span>
<span class="x" style="left:812.7px;top:288.8px;font-size:11.2px;color:#1f5296;font-weight:bold;letter-spacing:0.31px;">Automation Overview</span>
<span class="x" style="left:39.0px;top:651.5px;font-size:11.2px;color:#1f5296;font-weight:bold;letter-spacing:-0.03px;">Billing</span>
<span class="x" style="left:426.3px;top:651.5px;font-size:11.2px;color:#1f5296;font-weight:bold;letter-spacing:0.05px;">To-Do List</span>
<span class="x" style="left:812.7px;top:644.7px;font-size:11.2px;color:#1f5296;font-weight:bold;letter-spacing:0.20px;">Support</span>
<span class="x" style="left:38.7px;top:832.5px;font-size:11.2px;color:#1f5296;font-weight:bold;letter-spacing:0.15px;">System Health</span>
<span class="x" style="left:426.3px;top:815.8px;font-size:11.2px;color:#1f5296;font-weight:bold;letter-spacing:0.25px;">Network Status</span>
<span class="x" style="left:591.4px;top:335.3px;font-size:10.7px;color:#333;font-weight:bold;letter-spacing:-0.34px;">Today</span>
<span class="x" style="left:640.5px;top:335.3px;font-size:10.7px;color:#888;letter-spacing:0.21px;">This Month</span>
<span class="x" style="left:714.5px;top:335.3px;font-size:10.7px;color:#888;letter-spacing:0.05px;">This Year</span>
<span class="x" style="left:843.5px;top:359.5px;font-size:11.2px;color:#9a9ba8;letter-spacing:0.13px;">Invoices Created</span>
<span class="x" style="left:880.9px;top:375.7px;font-size:20px;color:#5bc0c8;">3</span>
<span class="x" style="left:1032.5px;top:359.5px;font-size:11.2px;color:#9a9ba8;letter-spacing:0.16px;">Credit Card Captures</span>
<span class="x" style="left:1081.4px;top:375.7px;font-size:20px;color:#5cb85c;">2</span>
<span class="x" style="left:830.5px;top:455.5px;font-size:11.2px;color:#9a9ba8;letter-spacing:0.10px;">Overdue Suspensions</span>
<span class="x" style="left:880.9px;top:471.7px;font-size:20px;color:#f0ad4e;">0</span>
<span class="x" style="left:1029.5px;top:455.5px;font-size:11.2px;color:#9a9ba8;letter-spacing:0.03px;">Inactive Tickets Closed</span>
<span class="x" style="left:1081.4px;top:471.7px;font-size:20px;color:#ec4f93;">3</span>
<span class="x" style="left:835.0px;top:552.0px;font-size:11.2px;color:#9a9ba8;letter-spacing:0.17px;">Overdue Reminders</span>
<span class="x" style="left:880.9px;top:568.2px;font-size:20px;color:#888;">4</span>
<span class="x" style="left:1025.0px;top:552.0px;font-size:11.2px;color:#9a9ba8;letter-spacing:0.04px;">Cancellations Processed</span>
<span class="x" style="left:1081.4px;top:568.2px;font-size:20px;color:#8e5ea2;">0</span>
<span class="x" style="left:825.3px;top:606.2px;font-size:10.7px;color:#999;letter-spacing:-0.03px;">Last Automation Run: <b style="font-weight:bold;color:#666">Never</b></span>
<span class="x" style="left:966.3px;top:606.7px;font-size:10.2px;color:#fff;font-weight:bold;letter-spacing:-0.31px;">NEEDS ATTENTION</span>
<span class="x" style="left:39.6px;top:689.6px;font-size:21.3px;color:#5cb85c;letter-spacing:0.48px;">$18.95</span>
<span class="x" style="left:39.0px;top:717.1px;font-size:11px;color:#999ba3;letter-spacing:0.33px;">Today</span>
<span class="x" style="left:226.6px;top:689.6px;font-size:21.3px;color:#ecab48;letter-spacing:0.49px;">$279.32</span>
<span class="x" style="left:226.0px;top:717.1px;font-size:11px;color:#999ba3;letter-spacing:0.36px;">This Month</span>
<span class="x" style="left:39.6px;top:759.0px;font-size:21.3px;color:#ec4f93;letter-spacing:0.41px;">$6,432.88</span>
<span class="x" style="left:39.0px;top:786.3px;font-size:11px;color:#999ba3;letter-spacing:0.08px;">This Year</span>
<span class="x" style="left:226.6px;top:759.0px;font-size:21.3px;color:#222;letter-spacing:0.52px;">$32,317.94</span>
<span class="x" style="left:226.0px;top:786.3px;font-size:11px;color:#999ba3;letter-spacing:0.23px;">All Time</span>
<span class="x" style="left:87.1px;top:874.5px;font-size:11.2px;color:#333;letter-spacing:0.08px;">Overall Rating</span>
<span class="x" style="left:87.1px;top:891.0px;font-size:20.3px;color:#3fae49;letter-spacing:-1.41px;">Good</span>
<span class="x" style="left:316.7px;top:880.9px;font-size:11.2px;color:#333;letter-spacing:-0.32px;">View Issues</span>
<span class="x" style="left:464.3px;top:699.0px;font-size:11.2px;color:#232d5b;letter-spacing:0.15px;">Update social header</span>
<span class="x" style="left:579.2px;top:700.1px;font-size:10px;color:#fff;font-weight:bold;letter-spacing:-0.41px;">IN PROGRESS</span>
<span class="x" style="left:700.2px;top:699.4px;font-size:10.7px;color:#999;letter-spacing:0.04px;">Due in 1 day</span>
<span class="x" style="left:464.3px;top:728.0px;font-size:11.2px;color:#232d5b;letter-spacing:0.29px;">Migrate customer domain</span>
<span class="x" style="left:603.5px;top:729.5px;font-size:10px;color:#fff;font-weight:bold;letter-spacing:-0.45px;">NEW</span>
<span class="x" style="left:683.1px;top:728.9px;font-size:10.7px;color:#999;letter-spacing:0.02px;">Due 1 week ago</span>
<span class="x" style="left:464.3px;top:757.1px;font-size:11.2px;color:#333;letter-spacing:0.17px;">Domain Transfer Failure</span>
<span class="x" style="left:595.7px;top:758.8px;font-size:10px;color:#fff;font-weight:bold;letter-spacing:-0.22px;">PENDING</span>
<span class="x" style="left:709.1px;top:757.9px;font-size:10.7px;color:#999;letter-spacing:0.06px;">Due Never</span>
<span class="x" style="left:430.4px;top:852.3px;font-size:15px;color:#555;letter-spacing:-0.43px;">Jupiter</span>
<span class="x" style="left:430.4px;top:869.9px;font-size:10.7px;color:#232d5b;letter-spacing:0.24px;">jupiter.serverfarm....</span>
<span class="x" style="left:552.2px;top:852.5px;font-size:12px;color:#ec4f93;letter-spacing:0.60px;">Offline</span>
<span class="x" style="left:556.5px;top:869.1px;font-size:10.7px;color:#999;letter-spacing:-0.05px;">Status</span>
<span class="x" style="left:649.0px;top:852.5px;font-size:12px;color:#333;font-weight:bold;">-</span>
<span class="x" style="left:633.0px;top:869.1px;font-size:10.7px;color:#999;letter-spacing:0.36px;">Uptime</span>
<span class="x" style="left:728.3px;top:852.5px;font-size:12px;color:#3a78c2;font-weight:bold;">-</span>
<span class="x" style="left:707.5px;top:869.1px;font-size:10.7px;color:#999;letter-spacing:0.07px;">Avg. load</span>
<span class="x" style="left:861.1px;top:685.9px;font-size:11.2px;color:#333;letter-spacing:0.14px;">Awaiting Reply</span>
<span class="x" style="left:861.2px;top:701.8px;font-size:18.5px;color:#5bc0c8;letter-spacing:-0.64px;">17</span>
<span class="x" style="left:887.0px;top:706.2px;font-size:13.3px;color:#888;letter-spacing:-0.15px;">Tickets</span>
<span class="x" style="left:1043.8px;top:685.9px;font-size:11.2px;color:#333;letter-spacing:0.10px;">Assigned To You</span>
<span class="x" style="left:1044.3px;top:701.8px;font-size:18.5px;color:#ec4f93;">3</span>
<span class="x" style="left:1059.7px;top:706.2px;font-size:13.3px;color:#888;letter-spacing:-0.16px;">Tickets</span>
<span class="x" style="left:824.7px;top:752.7px;font-size:11.2px;color:#232d5b;letter-spacing:0.14px;">#832465 - Website down</span>
<span class="x" style="left:1070.1px;top:752.7px;font-size:11.2px;color:#62c3cc;letter-spacing:0.19px;">27 minutes ago</span>
<span class="x" style="left:824.7px;top:776.7px;font-size:11.2px;color:#232d5b;letter-spacing:-0.03px;">#671840 - Re: URGENT: Low balance in your WH...</span>
<span class="x" style="left:1088.8px;top:776.7px;font-size:11.2px;color:#62c3cc;letter-spacing:0.13px;">6 hours ago</span>
<span class="x" style="left:824.7px;top:800.7px;font-size:11.2px;color:#232d5b;letter-spacing:0.09px;">#450342 - Fwd: Payment to add funds to Reselle...</span>
<span class="x" style="left:1082.5px;top:800.7px;font-size:11.2px;color:#62c3cc;letter-spacing:0.12px;">20 hours ago</span>
<span class="x" style="left:824.7px;top:824.7px;font-size:11.2px;color:#232d5b;letter-spacing:0.20px;">#686238 - Unable to connect to ftp</span>
<span class="x" style="left:1095.1px;top:824.7px;font-size:11.2px;color:#62c3cc;letter-spacing:-0.05px;">2 days ago</span>
<span class="x" style="left:824.7px;top:848.7px;font-size:11.2px;color:#232d5b;letter-spacing:0.08px;">#474247 - [Ticket ID: 224546] Order Status (#2618...</span>
<span class="x" style="left:1092.0px;top:848.7px;font-size:11.2px;color:#62c3cc;letter-spacing:0.01px;">1 week ago</span>
<span class="x" style="left:857.0px;top:884.7px;font-size:10.7px;color:#232d5b;letter-spacing:0.06px;text-decoration:underline;">View All Tickets</span>
<span class="x" style="left:944.0px;top:884.7px;font-size:10.7px;color:#232d5b;letter-spacing:0.02px;text-decoration:underline;">View My Tickets</span>
<span class="x" style="left:1033.4px;top:884.7px;font-size:10.7px;color:#232d5b;letter-spacing:0.08px;text-decoration:underline;">Open New Ticket</span>
<span class="x" style="left:33.0px;top:71.8px;font-size:47.3px;color:#fff;font-weight:bold;transform:scaleX(1.115);transform-origin:0 0;">W</span>
<span class="x" style="left:81.3px;top:71.8px;font-size:47.3px;color:#fff;font-weight:bold;transform:scaleX(.97);transform-origin:50% 0;">H</span>
<span class="x" style="left:110.9px;top:71.8px;font-size:47.3px;color:#fff;font-weight:bold;transform:scaleX(1.04);transform-origin:0 0;">M</span>
<span class="x" style="left:185.2px;top:71.8px;font-size:47.5px;color:#fff;font-weight:bold;transform:scaleX(.82);transform-origin:0 0;">S</span>
<span class="x" style="left:3.5px;top:314.9px;font-size:12.3px;color:#fff;font-weight:bold;letter-spacing:0.17px;transform-origin:0 0;transform:rotate(-90deg);">Open Sidebar</span>
<span class="x" style="left:5.4px;top:322.2px;font-size:8px;color:#dfe8f2;transform-origin:0 0;transform:rotate(-90deg);">»</span>
<span class="x" style="left:5.4px;top:227.0px;font-size:8px;color:#dfe8f2;transform-origin:0 0;transform:rotate(-90deg);">»</span>
</div>
</body>
</html>
